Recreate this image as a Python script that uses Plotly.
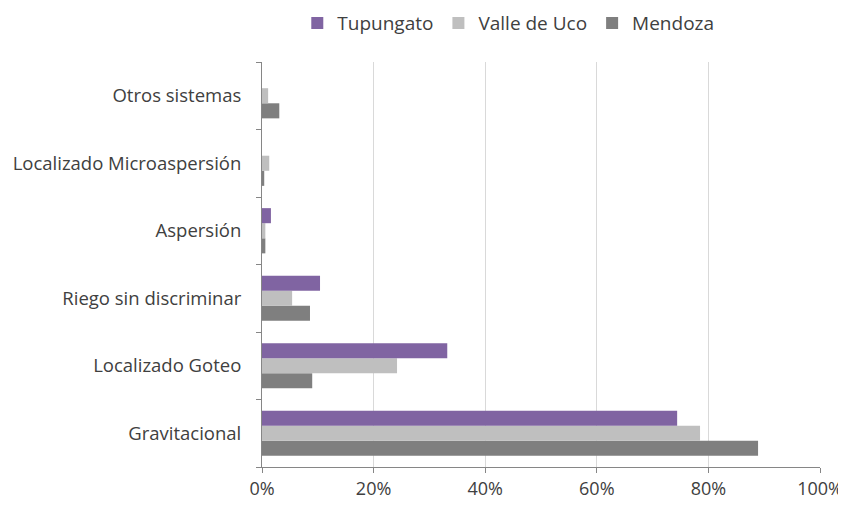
import plotly.graph_objects as go

categories = ["Gravitacional", "Localizado Goteo", "Riego sin discriminar", "Aspersión",
              "Localizado Microaspersión", "Otros sistemas"]
tupungato = [74.4, 33.2, 10.4, 1.6, 0.0, 0.0]
valle_de_uco = [78.5, 24.2, 5.4, 0.6, 1.3, 1.1]
mendoza = [88.9, 9.0, 8.6, 0.6, 0.4, 3.1]
x_ticks = [0, 20, 40, 60, 80, 100]
x_tick_labels = ["0%", "20%", "40%", "60%", "80%", "100%"]

fig = go.Figure()
fig.add_trace(go.Bar(name="Mendoza", y=categories, x=mendoza, orientation="h",
                     marker=dict(color="#7F7F7F", line=dict(width=0))))
fig.add_trace(go.Bar(name="Valle de Uco", y=categories, x=valle_de_uco, orientation="h",
                     marker=dict(color="#BFBFBF", line=dict(width=0))))
fig.add_trace(go.Bar(name="Tupungato", y=categories, x=tupungato, orientation="h",
                     marker=dict(color="#8064A2", line=dict(width=0))))

font = "Open Sans, Liberation Sans, sans-serif"
fig.update_layout(
    width=838, height=499,
    barmode="group", bargap=0.33, bargroupgap=0,
    paper_bgcolor="white", plot_bgcolor="white",
    margin=dict(l=254, r=26, t=54, b=40, autoexpand=False),
    font=dict(family=font, size=18, color="#404040"),
    legend=dict(orientation="h", xref="container", x=0.597, xanchor="center",
                yref="paper", y=1.143, yanchor="top",
                traceorder="reversed", font=dict(size=19),
                itemwidth=30, itemsizing="constant"),
    showlegend=True,
)
fig.update_xaxes(range=[0, 100], tickvals=x_ticks, ticktext=x_tick_labels,
                 showgrid=True, gridcolor="#D9D9D9", gridwidth=1,
                 showline=True, linecolor="#868686", linewidth=1,
                 ticks="outside", ticklen=5, tickcolor="#868686",
                 zeroline=False, tickfont=dict(size=18), automargin=False)
fig.update_yaxes(categoryorder="array", categoryarray=categories,
                 showline=True, linecolor="#868686", linewidth=1,
                 ticks="outside", tickson="boundaries", ticklen=5, tickcolor="#868686",
                 showgrid=False, tickfont=dict(size=18.5), ticklabelstandoff=16,
                 automargin=False)

fig.write_html("out.html")
